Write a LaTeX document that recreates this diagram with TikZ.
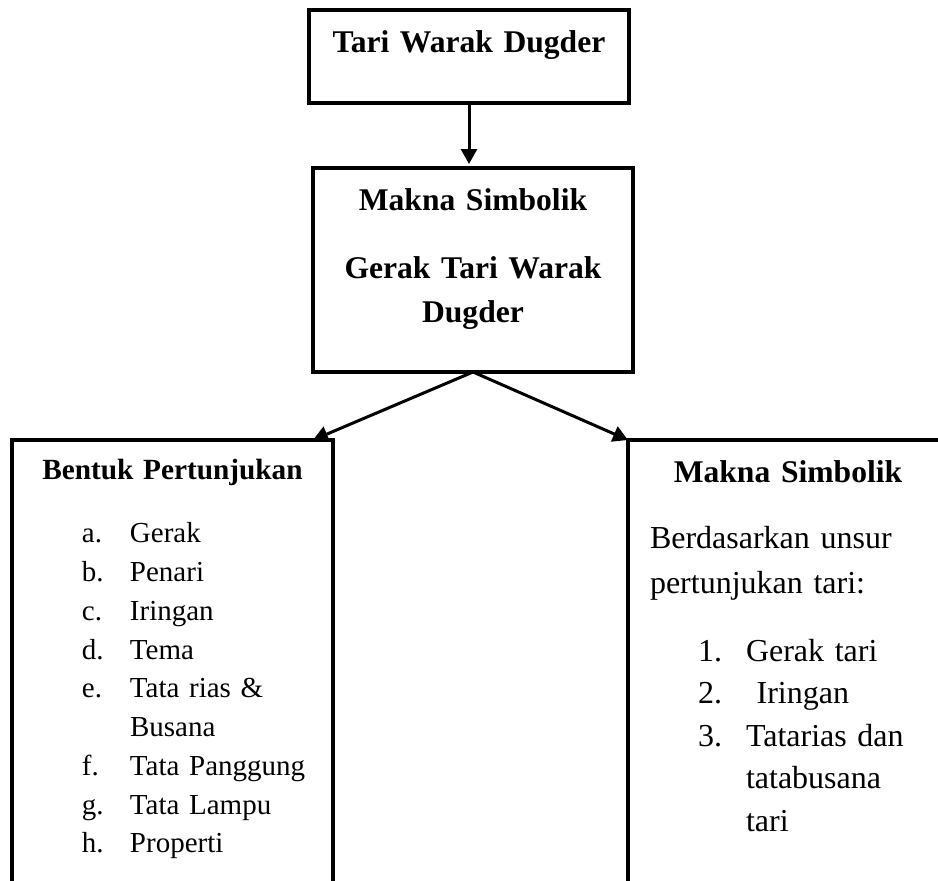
\documentclass[tikz,border=0pt]{standalone}
\usepackage{fontspec}
\setmainfont{Liberation Serif}
\usetikzlibrary{arrows.meta, positioning, calc}

\tikzset{
    % Box with its text at the top
    boxframe/.style={
        rectangle,
        draw=black,
        line width=1.65pt,
        inner sep=0pt,
        outer sep=0pt,
        text width=160pt,
        anchor=north
    },
    % Heading box
    titlebox/.style={
        boxframe,
        align=center,
        font=\fontsize{15.8}{22}\selectfont\bfseries
    },
    % Open box at the bottom
    listbox/.style={
        boxframe,
        align=left,
        anchor=north west
    },
    % Arrow style
    arrow/.style={
        -{Triangle[length=7.5pt,width=8pt]},
        line width=1.5pt,
        color=black
    }
}
\newcommand{\listrow}[2]{\hspace*{35pt}\makebox[24pt][l]{#1}#2}

\begin{document}
\begin{tikzpicture}[x=0.5pt, y=-0.5pt]
    \useasboundingbox (0,0) rectangle (938,880);
    \clip (0,0) rectangle (938,880);

    % Top
    \node (top) [titlebox, text height=21pt, text depth=25.5pt] at (469,10) {Tari Warak Dugder};
    \node (mid) [titlebox, text height=21pt, text depth=81pt, below=32.5pt of top, xshift=2pt]
        {Makna Simbolik\\[12pt] Gerak Tari Warak\\ Dugder};

    % Bottom boxes
    \node (lbox) [listbox, text width=160.5pt, text height=19.5pt, text depth=210pt,
        font=\fontsize{14.5}{19.375}\selectfont] at (12,440) {
        \makebox[\linewidth]{\bfseries\fontsize{14.65}{19}\selectfont Bentuk Pertunjukan}\\[12.6pt]
        \listrow{a.}{Gerak}\\
        \listrow{b.}{Penari}\\
        \listrow{c.}{Iringan}\\
        \listrow{d.}{Tema}\\
        \listrow{e.}{Tata rias \&}\\
        \listrow{}{Busana}\\
        \listrow{f.}{Tata Panggung}\\
        \listrow{g.}{Tata Lampu}\\
        \listrow{h.}{Properti}};

    \node (rbox) [listbox, text height=21pt, text depth=210pt,
        font=\fontsize{16}{21.25}\selectfont] at (628,440) {
        \makebox[\linewidth]{\bfseries\fontsize{15.8}{21}\selectfont Makna Simbolik}\\[11.75pt]
        \hspace*{11pt}Berdasarkan unsur\\[1.25pt]
        \hspace*{11pt}pertunjukan tari:\\[12.75pt]
        \listrow{1.}{Gerak tari}\\
        \listrow{2.}{\ Iringan}\\
        \listrow{3.}{Tatarias dan}\\
        \listrow{}{tatabusana}\\
        \listrow{}{tari}};

    \draw [arrow, shorten >=2pt] (top.south) -- (top.south |- mid.north);
    \draw [arrow] (mid.south) -- ([xshift=-10pt]lbox.north east);
    \draw [arrow] (mid.south) -- (rbox.north west);
\end{tikzpicture}
\end{document}
